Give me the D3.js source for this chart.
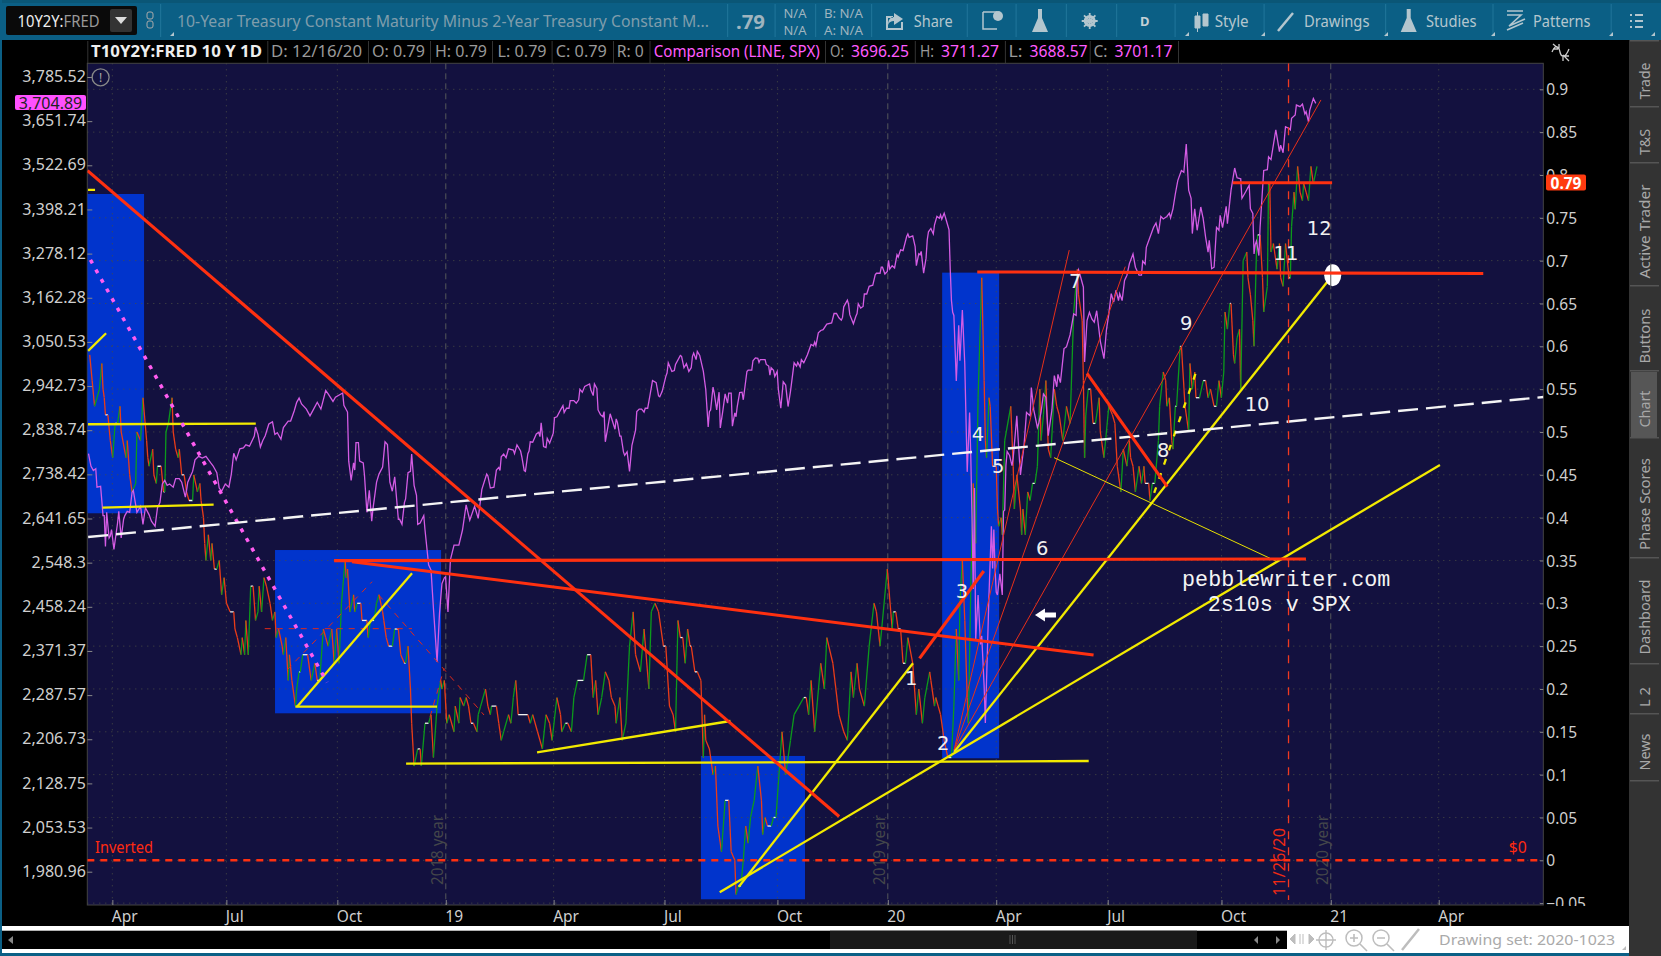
<!DOCTYPE html>
<html><head><meta charset="utf-8">
<script src="https://cdn.jsdelivr.net/npm/d3@7"></script>
<style>html,body{margin:0;padding:0;background:#000;overflow:hidden}svg{display:block}text{font-family:"Noto Sans",sans-serif}</style>
</head><body><svg id="c" width="1661" height="956"></svg>
<script>
// x values are calendar days counted from 2018-03-11
const spxDays=[1,3,5,7,8,11,13,14,15,16,18,19,20,22,25,26,28,30,31,33,35,37,38,41,44,46,48,51,53,56,58,60,62,64,66,68,71,73,76,78,81,82,83,85,87,89,92,95,98,102,104,107,109,111,114,117,119,121,123,126,129,131,134,138,139,141,143,145,147,150,153,155,157,160,162,166,168,171,173,175,177,181,184,187,190,193,197,199,203,205,211,212,215,216,218,220,221,222,224,225,228,229,231,233,235,236,239,241,244,246,248,250,252,254,257,258,260,262,263,265,267,268,270,272,273,275,278,279,282,284,286,289,291,293,295,296,298,300,303,307,310,313,316,320,323,326,330,331,333,336,338,340,341,342,344,346,348,352,353,355,358,359,361,362,364,365,366,368,371,373,374,375,377,379,380,382,385,386,388,391,393,394,396,398,399,402,404,406,407,409,411,415,416,418,419,421,422,424,426,427,428,432,434,436,437,438,440,441,443,444,446,448,450,453,454,456,458,460,461,463,465,467,470,472,473,475,478,479,480,483,485,486,490,491,493,495,497,499,500,501,503,504,506,509,511,513,514,515,517,518,520,522,523,525,527,529,530,532,533,535,536,537,539,541,542,545,546,549,550,552,554,555,556,560,561,563,564,565,567,568,570,571,573,575,577,579,581,584,586,587,589,590,592,595,598,600,601,602,604,606,608,611,615,617,619,621,623,624,625,628,629,630,633,635,636,637,639,641,642,644,646,649,651,652,655,656,657,659,661,662,663,665,667,669,670,672,674,677,678,679,682,684,685,687,688,689,691,693,694,695,697,699,700,702,704,705,706,708,710,712,713,714,715,716,718,720,721,723,725,727,729,730,731,732,733,734,736,738,739,741,742,743,745,747,748,749,750,751,752,754,756,757,758,759,760,762,764,765,768,769,771,774,776,779,780,782,785,786,788,790,792,794,797,799,801,802,804,807,809,812,815,817,818,819,821,823,824,826,828,830,832,834,837,840,842,844,846,848,850,852,853,855,857,859,861,864,866,869,871,872,874,875,878,881,883,885,887,889,892,894,895,897,899,901,902,904,906,908,910,912,913,915,917,920,922,924,926,927,929,931,933,935,936,938,941,942,945,948,950,953,954,957,960,961,963,964,965,966,968,969,972,975,976,978,982,985,986,988,990,993,994,995,998,999,1002,1004,1006,1007,1009,1010,1013,1015];
const spxValues=[2785,2757,2747,2751,2710,2712,2648,2648,2582,2655,2600,2604,2618,2576,2632,2657,2600,2640,2648,2657,2655,2699,2703,2655,2668,2629,2665,2650,2636,2625,2665,2676,2717,2725,2714,2717,2710,2729,2729,2721,2688,2703,2721,2733,2745,2771,2779,2775,2779,2764,2757,2742,2708,2701,2717,2710,2739,2786,2771,2796,2798,2805,2802,2825,2846,2829,2800,2815,2826,2853,2858,2829,2833,2818,2845,2860,2860,2884,2904,2914,2900,2888,2872,2888,2904,2888,2932,2924,2906,2916,2926,2897,2881,2768,2725,2764,2748,2810,2810,2768,2764,2737,2655,2703,2636,2662,2721,2739,2755,2812,2806,2721,2701,2733,2640,2640,2629,2676,2684,2742,2745,2784,2714,2692,2629,2632,2648,2618,2544,2533,2455,2350,2445,2505,2517,2519,2448,2554,2585,2585,2617,2671,2638,2668,2642,2705,2739,2735,2708,2710,2748,2754,2747,2778,2784,2776,2796,2793,2785,2805,2791,2778,2747,2745,2785,2791,2812,2811,2830,2834,2824,2856,2801,2799,2820,2809,2832,2868,2870,2886,2896,2880,2890,2890,2908,2908,2902,2910,2935,2928,2942,2948,2934,2920,2948,2937,2886,2875,2870,2882,2812,2877,2859,2841,2865,2857,2825,2825,2789,2781,2789,2745,2804,2839,2882,2888,2888,2881,2890,2890,2922,2956,2951,2919,2917,2930,2966,2974,2999,2978,2980,2995,3017,3015,2987,2997,2978,2987,3015,3023,3007,3027,3017,2978,2934,2846,2882,2886,2940,2926,2886,2928,2844,2882,2924,2902,2926,2926,2848,2879,2870,2894,2927,2928,2910,2978,2981,2981,3004,3011,3010,3000,3007,3007,2995,2991,2969,2987,2981,2966,2978,2934,2890,2953,2945,2894,2930,2999,2991,3000,2989,3007,2999,3019,3044,3041,3050,3041,3073,3079,3081,3095,3098,3122,3122,3111,3105,3112,3139,3156,3145,3119,3096,3115,3122,3147,3136,3140,3172,3172,3192,3195,3222,3226,3226,3242,3242,3224,3231,3260,3237,3246,3240,3275,3269,3288,3286,3324,3331,3322,3326,3297,3246,3278,3275,3284,3226,3266,3315,3337,3346,3331,3356,3379,3374,3383,3371,3388,3365,3342,3235,3155,3125,3117,2955,3092,3004,3131,2996,2744,2880,2775,2642,2494,2708,2392,2482,2384,2401,2304,2236,2316,2482,2625,2536,2618,2536,2488,2482,2525,2482,2657,2660,2758,2790,2781,2758,2775,2872,2822,2737,2805,2880,2872,2939,2886,2845,2853,2880,2924,2916,2826,2886,2968,2941,2971,2951,3034,3038,3068,3121,3117,3222,3235,3213,3190,3001,3104,3125,3108,3100,3129,3052,3009,3079,3121,3173,3151,3182,3155,3173,3155,3207,3221,3251,3277,3242,3221,3221,3258,3250,3295,3322,3349,3361,3332,3379,3372,3379,3388,3375,3400,3442,3479,3489,3508,3503,3584,3452,3429,3332,3400,3341,3405,3372,3322,3282,3314,3238,3242,3349,3341,3382,3348,3407,3359,3452,3515,3487,3484,3429,3447,3466,3400,3387,3277,3303,3312,3273,3349,3508,3510,3547,3539,3626,3562,3581,3559,3635,3630,3626,3660,3670,3700,3695,3703,3673,3680,3650,3684,3720,3705];
const spreadDays=[2,4,6,8,10,12,13,14,15,17,19,21,23,25,27,28,32,33,35,37,40,41,44,46,49,50,51,54,55,57,58,61,63,64,65,67,70,71,73,75,76,78,80,82,84,87,88,91,93,94,96,97,98,100,102,103,105,107,109,111,113,115,118,121,122,124,127,128,130,131,133,135,137,139,141,142,144,146,148,151,153,155,156,158,161,162,164,166,167,169,172,173,175,176,178,182,185,188,190,192,195,197,199,202,204,206,208,210,213,214,215,217,220,221,223,226,227,231,232,234,237,239,241,244,245,247,249,252,254,257,259,262,263,265,267,268,270,273,275,276,279,282,284,286,289,292,293,295,297,299,303,304,307,308,311,313,315,317,319,322,323,325,329,331,333,334,338,340,342,344,348,350,352,354,356,364,366,368,372,376,379,382,384,388,391,392,395,397,400,402,405,410,413,416,418,420,422,425,428,431,433,436,437,440,442,445,448,451,453,457,460,464,466,469,472,476,478,481,484,486,488,490,492,494,496,498,499,502,504,507,509,510,511,514,517,519,521,524,527,530,532,535,536,538,540,542,544,546,548,551,554,557,558,560,562,565,567,569,572,574,577,581,584,588,592,594,596,598,601,606,609,611,616,621,625,628,631,633,636,638,642,646,650,652,655,661,665,666,668,670,672,674,676,678,682,685,687,690,692,696,697,700,701,703,705,708,711,714,716,718,720,721,723,725,727,728,730,732,734,736,739,741,742,743,745,746,748,751,752,753,755,756,758,763,765,766,768,771,772,773,775,777,779,781,783,785,787,788,790,792,794,796,799,801,803,806,809,812,815,818,819,822,823,824,825,827,829,831,833,836,837,840,842,844,847,849,851,854,856,859,861,862,864,866,869,871,873,874,877,878,880,882,885,886,889,891,892,894,896,897,899,900,903,904,907,910,911,913,915,916,919,922,924,926,928,931,933,935,937,939,940,942,944,945,947,948,950,952,953,955,958,959,961,963,964,966,967,969,971,972,975,976,977,978,980,983,985,986,988,990,993,994,995,997,998,1000,1002,1004,1005,1007,1009,1011,1013,1016];
const spreadValues=[0.59,0.56,0.53,0.54,0.55,0.58,0.55,0.54,0.52,0.52,0.49,0.47,0.51,0.51,0.53,0.50,0.47,0.49,0.45,0.43,0.44,0.50,0.49,0.54,0.49,0.47,0.46,0.48,0.45,0.44,0.46,0.46,0.43,0.43,0.50,0.51,0.54,0.50,0.48,0.47,0.48,0.45,0.45,0.43,0.42,0.42,0.45,0.43,0.44,0.42,0.40,0.37,0.35,0.38,0.35,0.37,0.34,0.34,0.35,0.31,0.33,0.30,0.29,0.29,0.27,0.26,0.24,0.26,0.24,0.28,0.24,0.32,0.32,0.28,0.29,0.32,0.29,0.33,0.32,0.30,0.28,0.29,0.26,0.27,0.25,0.24,0.26,0.21,0.24,0.21,0.18,0.20,0.22,0.22,0.24,0.24,0.21,0.23,0.21,0.21,0.27,0.26,0.25,0.27,0.23,0.27,0.23,0.30,0.35,0.33,0.34,0.29,0.31,0.29,0.30,0.30,0.28,0.28,0.26,0.28,0.28,0.30,0.31,0.29,0.28,0.26,0.25,0.25,0.27,0.27,0.24,0.23,0.23,0.25,0.20,0.16,0.11,0.13,0.13,0.11,0.16,0.16,0.17,0.12,0.18,0.21,0.20,0.21,0.16,0.17,0.15,0.18,0.16,0.19,0.18,0.19,0.18,0.16,0.16,0.15,0.17,0.18,0.20,0.18,0.17,0.18,0.18,0.16,0.14,0.15,0.17,0.16,0.19,0.21,0.17,0.17,0.16,0.17,0.15,0.13,0.17,0.16,0.14,0.19,0.17,0.15,0.16,0.16,0.15,0.19,0.21,0.21,0.24,0.24,0.19,0.21,0.17,0.19,0.22,0.21,0.19,0.18,0.16,0.19,0.14,0.16,0.25,0.29,0.24,0.22,0.27,0.20,0.29,0.30,0.29,0.25,0.25,0.18,0.17,0.15,0.28,0.26,0.26,0.23,0.27,0.25,0.25,0.22,0.22,0.21,0.12,0.17,0.14,0.13,0.10,0.11,0.04,0.01,0.07,0.07,0.01,0,-0.04,-0.03,-0.03,0,0.04,0.02,0.05,0.07,0.11,0.07,0.03,0.05,0.04,0.04,0.05,0.05,0.11,0.15,0.10,0.14,0.17,0.18,0.19,0.19,0.17,0.21,0.15,0.23,0.20,0.26,0.23,0.17,0.15,0.14,0.22,0.19,0.23,0.20,0.18,0.25,0.30,0.29,0.25,0.34,0.27,0.29,0.29,0.27,0.27,0.23,0.23,0.26,0.23,0.17,0.20,0.16,0.19,0.22,0.21,0.18,0.19,0.18,0.17,0.14,0.12,0.12,0.18,0.27,0.21,0.30,0.35,0.28,0.19,0.16,0.32,0.44,0.37,0.54,0.68,0.56,0.49,0.47,0.54,0.53,0.46,0.46,0.41,0.39,0.40,0.38,0.49,0.53,0.46,0.41,0.45,0.41,0.38,0.41,0.38,0.43,0.42,0.44,0.44,0.46,0.55,0.49,0.52,0.56,0.48,0.47,0.55,0.53,0.52,0.49,0.53,0.51,0.64,0.69,0.66,0.63,0.56,0.47,0.52,0.55,0.55,0.51,0.51,0.54,0.50,0.47,0.50,0.53,0.52,0.51,0.46,0.43,0.48,0.46,0.49,0.47,0.46,0.43,0.46,0.44,0.46,0.44,0.44,0.42,0.44,0.44,0.49,0.53,0.57,0.56,0.53,0.54,0.49,0.48,0.53,0.53,0.60,0.60,0.53,0.50,0.58,0.55,0.57,0.54,0.54,0.56,0.56,0.54,0.55,0.53,0.53,0.56,0.54,0.57,0.64,0.62,0.65,0.65,0.59,0.58,0.61,0.62,0.55,0.70,0.71,0.68,0.66,0.63,0.60,0.71,0.73,0.73,0.68,0.64,0.67,0.79,0.79,0.71,0.72,0.69,0.72,0.68,0.67,0.72,0.68,0.68,0.74,0.78,0.76,0.81,0.78,0.77,0.79,0.78,0.77,0.81,0.79,0.81];
const leftTicks=[3785.52,3651.74,3522.69,3398.21,3278.12,3162.28,3050.53,2942.73,2838.74,2738.42,2641.65,2548.3,2458.24,2371.37,2287.57,2206.73,2128.75,2053.53,1980.96];
const rightTicks=[0.9,0.85,0.8,0.75,0.7,0.65,0.6,0.55,0.5,0.45,0.4,0.35,0.3,0.25,0.2,0.15,0.1,0.05,0,-0.05];
const xTickDays=[20.7,114.9,206.6,296.2,385.3,476.9,570.2,661.4,751,843.1,937.1,1027.4,1116.6];
const xTickLabels=["Apr","Jul","Oct","19","Apr","Jul","Oct","20","Apr","Jul","Oct","21","Apr"];
const yearDays=[296.2,661.4,1027.4];
const yearLabels=["2018 year","2019 year","2020 year"];
// highlighted windows: first day, last day, top yield, bottom yield
const boxes=[[0,46.9,0.7778,0.4051],[155.1,292.3,0.3622,0.1716],[507,593,0.1218,-0.0455],[706.3,753.4,0.686,0.1191]];
// drawn trend lines: day, yield, day, yield
const thickRed=[[0.2,0.8051,621.2,0.0511],[203.9,0.3498,1006.9,0.3517],[218.7,0.3486,831.4,0.2397],[735.3,0.6868,1153.4,0.685],[946.4,0.791,1028.5,0.791],[687.6,0.2358,740.7,0.3377],[826,0.5685,892.3,0.4361]];
const thinRed=[[716.2,0.1288,811.3,0.7123],[716.2,0.1288,857.6,0.693],[716.2,0.1288,1019.3,0.8876]];
const yellow=[[0.7,0.5946,15.5,0.6152],[0.6,0.509,139.2,0.5097],[12.6,0.4116,104.4,0.4151],[0.6,0.7825,6.4,0.7825],[171.9,0.1793,289,0.1793],[173.3,0.1793,268.3,0.335],[263.4,0.1128,827.4,0.1159],[371.6,0.1261,531.4,0.1626],[522.5,-0.0374,1117.6,0.4615],[538.3,-0.0308,682.2,0.23],[716.2,0.1264,1029,0.6833]];
const thinYellow=[[798.8,0.47,983.2,0.3486]];
const dashYellow=[[881.5,0.4288,917,0.5735]];
const dashRed=[[146.6,0.2704,268.3,0.2704],[165,0.2222,235.3,0.3252],[240.8,0.3097,327.8,0.1696],[283.2,0.1676,294.8,0.2241]];
const whiteDash=[[0.7,0.3774,1203.2,0.5408]];
const pinkDots=[[2.6,0.7008,198.1,0.2078]];
const pointLabels=["1","2","3","4","5","6","7","8","9","10","11","12"];
const pointDays=[680.7,707.2,722.6,735.8,752.6,789,816.2,888.9,908,966.5,990.4,1017.9];
const pointYields=[0.2128,0.1358,0.3136,0.4965,0.4595,0.3642,0.6755,0.4782,0.6261,0.5315,0.7086,0.7378];
const markerDay=992.5, circleDay=1029, circleYield=0.683, arrowDay=783, arrowYield=0.2864;

const L=87.3,R=1543.3,T=63.3,B=905;
const svg=d3.select("#c");
const x=d3.scaleLinear([0,1203],[L,R]);
const yR=d3.scaleLinear([0,0.9],[860.3,89.3]);
const yL=d3.scaleLog([1980.96,3785.52],[871.7,77]);

function txt(g,s,px,py,o={}){const t=g.append("text").attr("x",px).attr("y",py).text(s)
 .attr("fill",o.c||"#ccc").attr("font-size",o.s||15.5).attr("dominant-baseline","central");
 if(o.w)t.attr("textLength",o.w).attr("lengthAdjust","spacingAndGlyphs");
 if(o.a)t.attr("text-anchor",o.a); if(o.b)t.attr("font-weight",o.b); if(o.f)t.style("font-family",o.f);
 if(o.r)t.attr("transform",`rotate(${o.r} ${px} ${py})`); return t;}

// page frame
svg.append("rect").attr("width",1661).attr("height",956).attr("fill","#000");
const bar=svg.append("g");
bar.append("rect").attr("width",1661).attr("height",40).attr("fill","#0b5f85");
bar.append("rect").attr("width",1661).attr("height",3).attr("fill","#0a5676");
svg.append("rect").attr("x",0).attr("y",0).attr("width",2).attr("height",956).attr("fill","#0b5f85");
svg.append("rect").attr("y",953).attr("width",1661).attr("height",3).attr("fill","#0b5f85");
[160,727,774.5,815,871,966.7,1015.5,1065.8,1116,1174.5,1263.5,1385,1492.4,1610.6].forEach(v=>bar.append("rect").attr("x",v).attr("y",4).attr("width",1.2).attr("height",33).attr("fill","#1d7297"));
bar.append("rect").attr("x",6).attr("y",6).attr("width",131).attr("height",29).attr("rx",2).attr("fill","#0a0a0a");
bar.append("rect").attr("x",110).attr("y",9).attr("width",22).attr("height",23).attr("rx",2).attr("fill","#333");
bar.append("path").attr("d","M115 17H127L121 24Z").attr("fill","#ddd");
txt(bar,"10Y2Y:",17.5,21,{c:"#eee",s:15.5,w:46});txt(bar,"FRED",63.5,21,{c:"#999",s:15.5,w:36});
bar.append("rect").attr("x",147).attr("y",12).attr("width",6).attr("height",7).attr("rx",2).attr("fill","none").attr("stroke","#aaa");
bar.append("rect").attr("x",147).attr("y",21).attr("width",6).attr("height",7).attr("rx",2).attr("fill","none").attr("stroke","#aaa");
txt(bar,"10-Year Treasury Constant Maturity Minus 2-Year Treasury Constant M...",177,21,{c:"#7f9dac",s:15.5,w:532});
txt(bar,".79",736,21,{c:"#9fb4bf",s:20,b:700,w:29});
txt(bar,"N/A",783.5,13.5,{c:"#9fb4bf",s:12.5,w:23});txt(bar,"N/A",783.5,30,{c:"#9fb4bf",s:12.5,w:23});
txt(bar,"B: N/A",824,13.5,{c:"#9fb4bf",s:12.5,w:39});txt(bar,"A: N/A",824,30,{c:"#9fb4bf",s:12.5,w:39});
[["Share",913.7,39],["Style",1214.7,34],["Drawings",1304,65.5],["Studies",1426,50.5],["Patterns",1533,57.5]].forEach(d=>txt(bar,d[0],d[1],21,{c:"#b4c6ce",s:15.5,w:d[2]}));
txt(bar,"D",1144.8,21,{c:"#c4d0d6",s:13,b:700,a:"middle"});
const ico="#b4c6ce";
bar.append("path").attr("d","M886 16v14h17v-8h-2v6h-13v-10h5v-2zM894 13l9 6-9 6v-4c-3 0-5 1-6 4 0-5 2-8 6-8z").attr("fill",ico);
bar.append("path").attr("d","M983 12h14M983 12v17h14").attr("fill","none").attr("stroke",ico).attr("stroke-width",1.5);
bar.append("circle").attr("cx",998).attr("cy",16).attr("r",5).attr("fill",ico);
[1040,1408.7].forEach(c=>bar.append("path").attr("d",`M${c-2} 9h4v9l6 14h-16l6-14z`).attr("fill",ico));
bar.append("circle").attr("cx",1089.7).attr("cy",21).attr("r",4.5).attr("fill","none").attr("stroke",ico).attr("stroke-width",3);
bar.append("path").attr("d","M1089.7 13v16M1081.7 21h16M1084 15.3l11.4 11.4M1084 26.7l11.4-11.4").attr("stroke",ico).attr("stroke-width",1.8);
bar.append("path").attr("d","M1195 16h5v12h-5zM1197.5 12v20M1203 14h5v12h-5z").attr("fill",ico).attr("stroke",ico);
bar.append("path").attr("d","M1278 31L1293 13").attr("stroke",ico).attr("stroke-width",2.5);
bar.append("path").attr("d","M1507 11h16M1507 15l14 0-12 11 16-7M1507 30l16-7").attr("fill","none").attr("stroke",ico).attr("stroke-width",1.6);
bar.append("path").attr("d","M1630 15h2M1635 15h8M1630 21h2M1635 21h8M1630 27h2M1635 27h8").attr("stroke",ico).attr("stroke-width",2);
[174,1265,1189,1388,1495,1613,1655].forEach(v=>bar.append("path").attr("d",`M${v-4} 36h4v-4z`).attr("fill",ico));

// header row
const hd=svg.append("g");
[87.3,267.3,368,430,492,551.6,613,649.5,825,914.8,1004.9,1089.7,1178].forEach(v=>hd.append("rect").attr("x",v).attr("y",41).attr("width",1).attr("height",22).attr("fill","#333"));
txt(hd,"T10Y2Y:FRED 10 Y 1D",91,50.8,{c:"#eee",b:700,w:171});
[["D: 12/16/20",271,91],["O: 0.79",372,53],["H: 0.79",435,52],["L: 0.79",497.6,49],["C: 0.79",555.8,51],["R: 0",616.7,27]].forEach(d=>txt(hd,d[0],d[1],50.8,{c:"#999",w:d[2]}));
txt(hd,"Comparison (LINE, SPX)",653.8,50.8,{c:"#ff5cff",w:166});
[["O: ","3696.25",830],["H: ","3711.27",920],["L: ","3688.57",1008.6],["C: ","3701.17",1093.4]].forEach(d=>{txt(hd,d[0],d[2],50.8,{c:"#999",w:14});txt(hd,d[1],d[2]+21,50.8,{c:"#ff5cff",w:58});});
hd.append("path").attr("d","M1552 52c4-9 7-5 8 0s5 7 9-3M1553 44l6 5M1553 49l5-0M1559 44v5M1569 61l-6-6M1569 56h-6v5").attr("fill","none").attr("stroke","#ccc").attr("stroke-width",1.3);

// plot area
svg.append("rect").attr("x",L).attr("y",T).attr("width",R-L).attr("height",B-T).attr("fill","#13113f").attr("stroke","#444").attr("stroke-width",1);
const plot=svg.append("g");
svg.append("defs").append("clipPath").attr("id","pc").append("rect").attr("x",L).attr("y",T).attr("width",R-L).attr("height",B-T);
svg.select("defs").append("clipPath").attr("id","lab").append("rect").attr("x",1540).attr("y",T).attr("width",80).attr("height",B-T+1);
plot.attr("clip-path","url(#pc)");
plot.selectAll(".bx").data(boxes).join("rect").attr("x",d=>x(d[0])).attr("width",d=>x(d[1])-x(d[0])).attr("y",d=>yR(d[2])).attr("height",d=>yR(d[3])-yR(d[2])).attr("fill","#0134cc");
// dotted grid
plot.selectAll(".gh").data(rightTicks).join("line").attr("x1",L).attr("x2",R).attr("y1",d=>yR(d)).attr("y2",d=>yR(d)).attr("stroke","#4a4d44").attr("stroke-dasharray","1 5");
plot.selectAll(".gv").data(xTickDays.filter(d=>!yearDays.includes(d))).join("line").attr("y1",T).attr("y2",B).attr("x1",d=>x(d)).attr("x2",d=>x(d)).attr("stroke","#4a4d44").attr("stroke-dasharray","1 5");
plot.selectAll(".yr").data(yearDays).join("line").attr("y1",T).attr("y2",B).attr("x1",d=>x(d)).attr("x2",d=>x(d)).attr("stroke","#55585a").attr("stroke-dasharray","6 4");
yearLabels.forEach((s,i)=>txt(plot,s,x(yearDays[i])-9,850,{c:"#44464a",s:15.5,a:"middle",r:-90,w:70}));
// zero line, labels
plot.append("line").attr("x1",L).attr("x2",R).attr("y1",yR(0)).attr("y2",yR(0)).attr("stroke","#ff3010").attr("stroke-width",2.5).attr("stroke-dasharray","7 6");
txt(plot,"Inverted",x(6.4),846,{c:"#ff2a10",s:16.5,w:58});
txt(plot,"$0",x(1174.9)-0.5,846.5,{c:"#ff2a10",s:16.5,w:18});
// spread: each step coloured by direction
const steps=spreadValues.slice(1).map((v,i)=>({d0:spreadDays[i],v0:spreadValues[i],d1:spreadDays[i+1],v1:v}));
plot.selectAll(".sp").data(steps).join("line").attr("x1",d=>x(d.d0)).attr("x2",d=>x(d.d1)).attr("y1",d=>yR(d.v0)).attr("y2",d=>yR(d.v1))
 .attr("stroke",d=>d.v1>d.v0?"#0c9a1c":d.v1<d.v0?"#ea3c18":"#f0f0f0").attr("stroke-width",1.3);
// SPX comparison
plot.append("path").attr("d",d3.line().x(d=>x(d[0])).y(d=>yL(d[1]))(spxDays.map((d,i)=>[d,spxValues[i]]))).attr("fill","none").attr("stroke","#d45ce4").attr("stroke-width",1.3);
// drawings
function seg(data,color,w,dash){plot.selectAll(null).data(data).join("line").attr("x1",d=>x(d[0])).attr("y1",d=>yR(d[1])).attr("x2",d=>x(d[2])).attr("y2",d=>yR(d[3])).attr("stroke",color).attr("stroke-width",w).attr("stroke-dasharray",dash||null);}
seg(dashRed,"#e02a1a",1,"6 6");
seg(thinRed,"#e8301a",1);
seg(thinYellow,"#e8e000",1);
seg(yellow,"#f2ea00",2.3);
seg(dashYellow,"#f2ea00",2.3,"6 9");
seg(pinkDots,"#ff5cf0",3.5,"4 7");
seg(whiteDash,"#f4f4f4",2.4,"20 8");
plot.append("ellipse").attr("cx",x(circleDay)).attr("cy",yR(circleYield)).attr("rx",8.5).attr("ry",11).attr("fill","#fff");
plot.append("line").attr("x1",x(yearDays[2])).attr("x2",x(yearDays[2])).attr("y1",yR(circleYield)-11).attr("y2",yR(circleYield)+11).attr("stroke","#55585a");
seg(thickRed,"#ff3010",3.1);
plot.append("line").attr("x1",x(markerDay)).attr("x2",x(markerDay)).attr("y1",T).attr("y2",900).attr("stroke","#f03a20").attr("stroke-width",1.3).attr("stroke-dasharray","8 8");
txt(plot,"11/26/20",x(markerDay)-10,862,{c:"#f02a14",s:16.5,a:"middle",r:-90,w:68});
plot.append("path").attr("d",`M${x(arrowDay)} ${yR(arrowYield)}l10-6.5v4h11v5h-11v4z`).attr("fill","#fff");
pointLabels.forEach((s,i)=>txt(plot,s,x(pointDays[i]),yR(pointYields[i]),{c:"#f0f0f0",s:19.5,a:"middle",f:"DejaVu Sans"}));
txt(plot,"pebblewriter.com",x(990.6),yR(0.3296)+3,{c:"#f4f4f4",s:21.7,a:"middle",f:"Liberation Mono"});
txt(plot,"2s10s v SPX",x(984.8),yR(0.2992)+2,{c:"#f4f4f4",s:21.7,a:"middle",f:"Liberation Mono"});

// axes
function styleAxis(g){g.select(".domain").remove();g.selectAll("line").attr("stroke","#888");g.selectAll("text").attr("fill","#cfcfcf").attr("font-size",15.5).style("font-family",'"Noto Sans",sans-serif');}
const ax1=svg.append("g").attr("transform",`translate(${L},0)`).call(d3.axisLeft(yL).tickValues(leftTicks).tickFormat(d3.format(",.2~f")).tickSizeInner(-5).tickSizeOuter(0).tickPadding(1.5)).call(styleAxis);
const ax2=svg.append("g").attr("clip-path","url(#lab)").append("g").attr("transform",`translate(${R},0)`).call(d3.axisRight(yR).tickValues(rightTicks).tickFormat(d3.format(".2~f")).tickSizeInner(-4).tickSizeOuter(0).tickPadding(3)).call(styleAxis);
const ax3=svg.append("g").attr("transform",`translate(0,${B})`).call(d3.axisBottom(x).tickValues(xTickDays).tickFormat((d,i)=>xTickLabels[i]).tickSizeInner(-5).tickSizeOuter(0)).call(styleAxis);
ax3.selectAll("text").attr("text-anchor","start").attr("x",-1).attr("y",0).attr("dy",0).attr("dominant-baseline","central").attr("transform","translate(0,11)");
ax1.selectAll("text").attr("font-size",16).attr("dy",-1.4).attr("dominant-baseline","central");
ax2.selectAll("text").attr("dy",-0.4).attr("dominant-baseline","central");

// value badges
const bd=svg.append("g");
bd.append("rect").attr("x",1546).attr("y",174.5).attr("width",40).attr("height",16).attr("rx",2).attr("fill","#ff3b10");
txt(bd,"0.79",1566,182.5,{c:"#fff",b:700,a:"middle",s:15.5});
bd.append("rect").attr("x",15).attr("y",95).attr("width",71).attr("height",15).attr("rx",2).attr("fill","#ff50ff");
txt(bd,"3,704.89",50.5,102.5,{c:"#222",a:"middle",s:16});
bd.append("circle").attr("cx",100.6).attr("cy",77.3).attr("r",8.5).attr("fill","none").attr("stroke","#888").attr("stroke-width",1.3);
txt(bd,"!",100.6,77,{c:"#aaa",a:"middle",s:12});

// right rail
const rail=svg.append("g");
rail.append("rect").attr("x",1629).attr("width",32).attr("y",40).attr("height",916).attr("fill","#333");
[41,107,163,286,371,438,558,664,714,781].forEach(v=>rail.append("rect").attr("x",1630).attr("y",v-1).attr("width",29).attr("height",1.5).attr("fill","#555"));
rail.append("rect").attr("x",1631).attr("y",372).attr("width",26).attr("height",65).attr("fill","#565656");
[["Trade",81,37],["T&S",142,26],["Active Trader",231.5,94],["Buttons",336,55],["Chart",409,37],["Phase Scores",504,92],["Dashboard",617,75],["L 2",697,20],["News",752,37]].forEach(d=>txt(rail,d[0],1644,d[1],{c:"#a8a8a8",a:"middle",r:-90,w:d[2],s:15}));

// bottom strip
const st=svg.append("g");
st.append("rect").attr("x",2).attr("y",926).attr("width",1627).attr("height",27).attr("fill","#fff");
st.append("rect").attr("x",2).attr("y",930.7).attr("width",1285).attr("height",18.3).attr("fill","#000");
st.append("rect").attr("x",830).attr("y",930.7).attr("width",367).attr("height",18.3).attr("fill","#1a1a1a");
st.append("path").attr("d","M1010 935v9M1012.5 935v9M1015 935v9").attr("stroke","#555");
st.append("path").attr("d","M13 936l-5 4 5 4zM1258 936l-4 4 4 4zM1276 936l4 4-4 4z").attr("fill","#888");
const ic="#bdbdbd";
st.append("path").attr("d","M1295 934l-5 5 5 5zM1309 934l5 5-5 5zM1300 934v10M1303 934v10").attr("fill",ic).attr("stroke",ic);
st.append("circle").attr("cx",1326).attr("cy",940).attr("r",7).attr("fill","none").attr("stroke",ic).attr("stroke-width",1.4);
st.append("path").attr("d","M1326 930v20M1316 940h20").attr("stroke",ic).attr("stroke-width",1.4);
[[1354,"M1350 938h8M1354 934v8"],[1381,"M1377 938h8"]].forEach(d=>{st.append("circle").attr("cx",d[0]).attr("cy",938).attr("r",8).attr("fill","none").attr("stroke",ic).attr("stroke-width",1.5);st.append("path").attr("d",d[1]+`M${d[0]+6} 944l7 7`).attr("stroke",ic).attr("stroke-width",1.6);});
st.append("path").attr("d","M1402 950L1419 929").attr("stroke",ic).attr("stroke-width",2.5);
txt(st,"Drawing set: 2020-1023",1439,939,{c:"#aaa",s:15,w:176});
st.append("path").attr("d","M1622 950h4v-4z").attr("fill",ic);
</script></body></html>
